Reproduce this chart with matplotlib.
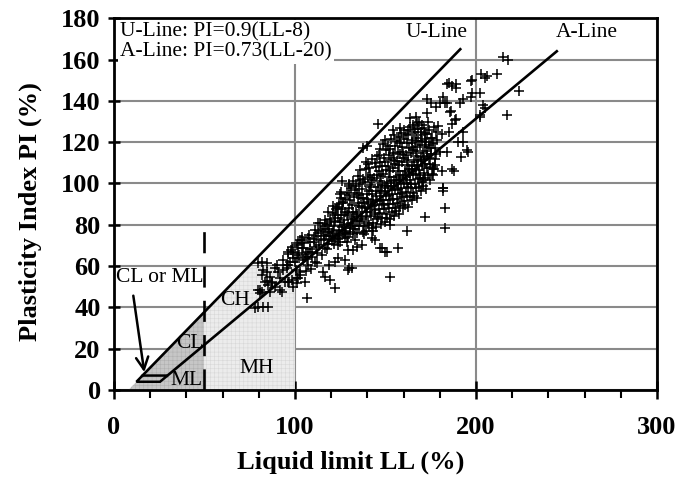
import numpy as np
import matplotlib.pyplot as plt
from matplotlib.patches import Polygon

plt.rcParams['font.family'] = ['Liberation Serif', 'DejaVu Serif']
plt.rcParams['hatch.linewidth'] = 0.4

# Casagrande line definitions
U_SLOPE, U_OFFSET = 0.9, 8
A_SLOPE, A_OFFSET = 0.73, 20

x_ticks = [0, 100, 200, 300]
y_ticks = [0, 20, 40, 60, 80, 100, 120, 140, 160, 180]

# soil samples (LL, PI) in the CH zone below LL = 100
ch_zone = [
    (81.8, 55.6), (84.5, 57.0), (86.0, 54.7), (83.4, 52.2), (80.7, 48.4),
    (81.8, 47.4), (85.0, 50.8), (87.3, 52.2), (89.0, 59.0), (90.6, 57.0),
    (93.4, 58.0), (95.6, 60.5), (97.2, 62.0), (99.0, 63.9), (98.0, 67.7),
    (78.0, 39.7), (79.6, 40.0), (82.3, 40.0), (85.0, 40.0), (86.0, 47.4),
    (91.7, 48.4), (89.0, 49.8), (94.5, 52.2), (97.0, 52.2), (99.0, 50.0),
    (79.6, 61.4), (84.5, 61.4), (90.0, 60.5), (93.4, 63.0), (96.0, 66.0),
    (82.3, 58.0), (84.5, 53.0), (79.6, 48.4), (80.7, 47.0), (87.3, 51.8),
    (91.7, 54.0), (92.8, 47.4), (96.0, 52.2), (81.8, 62.0),
]

# samples between LL = 100 and the dense cluster
mid_band = [
    (101.0, 70.0), (103.0, 72.6), (104.0, 74.0), (101.0, 54.0), (103.0, 55.6),
    (105.5, 52.2), (106.6, 44.5), (102.8, 57.0), (101.7, 54.2), (98.3, 53.2),
    (101.0, 51.8), (118.0, 86.0), (123.0, 88.5), (126.5, 91.0), (125.0, 95.0),
    (112.7, 80.8), (116.6, 82.2), (111.0, 77.4), (108.0, 75.0), (107.0, 73.5),
    (104.0, 72.6), (101.7, 71.0), (98.3, 69.0), (96.0, 66.8), (99.0, 66.8),
    (101.7, 66.3), (104.4, 68.7), (107.0, 66.8), (105.5, 64.3), (101.0, 63.9),
    (100.0, 61.9), (96.0, 60.5), (95.6, 59.0), (116.6, 68.7), (123.8, 70.1),
    (122.0, 73.5), (127.6, 76.0), (130.4, 76.5), (128.7, 71.6), (129.3, 67.7),
    (132.0, 67.7), (134.3, 69.2), (137.0, 70.1), (133.0, 72.6), (142.5, 73.5),
    (144.0, 72.6), (148.0, 68.7), (149.7, 66.8), (123.8, 63.9), (122.0, 61.9),
    (119.0, 60.5), (127.6, 62.9), (129.3, 58.0), (131.5, 59.0), (115.5, 57.0),
    (116.6, 54.7), (119.3, 53.2), (152.5, 54.7), (122.0, 49.3), (108.5, 68.2),
    (110.3, 71.5), (111.8, 74.6), (113.2, 70.1), (114.6, 76.8), (112.4, 66.3),
    (115.9, 72.9), (116.8, 79.4), (109.7, 64.6), (117.3, 75.2), (113.8, 80.7),
    (106.2, 65.9), (104.7, 62.8), (107.4, 60.3), (110.9, 62.2), (102.5, 65.2),
    (103.8, 68.9), (105.1, 71.1), (106.7, 63.4), (108.2, 71.9), (109.4, 67.0),
    (110.6, 73.2), (111.9, 69.0), (113.0, 75.9), (114.3, 72.7), (115.4, 78.1),
    (116.2, 74.4), (117.6, 80.6), (118.5, 76.7), (112.0, 61.5), (114.8, 65.6),
    (117.9, 68.3), (106.0, 57.5), (109.0, 58.5), (100.5, 58.2),
]

# dense cluster, LL 118-178
core = [
    (118.2, 70.5), (119.6, 74.8), (118.9, 78.1), (120.7, 72.2), (121.3, 76.9),
    (120.1, 81.4), (122.4, 84.6), (121.8, 79.3), (119.3, 83.0), (122.9, 87.5),
    (123.6, 73.1), (124.2, 77.6), (125.1, 71.8), (124.8, 81.2), (126.3, 75.4),
    (125.7, 84.9), (126.9, 79.7), (123.9, 88.2), (126.5, 90.6), (127.4, 86.3),
    (125.3, 93.1), (127.8, 73.6), (128.4, 76.2), (129.1, 80.5), (128.7, 84.7),
    (130.2, 78.3), (129.8, 88.1), (131.4, 82.6), (130.6, 91.9), (131.9, 86.4),
    (128.9, 95.2), (132.3, 75.6), (131.1, 97.8), (132.7, 93.5), (130.0, 99.6),
    (133.4, 77.8), (134.1, 81.9), (133.8, 86.2), (135.2, 79.4), (134.7, 90.5),
    (136.3, 84.1), (135.6, 94.3), (136.9, 88.7), (133.6, 98.6), (137.4, 76.3),
    (136.1, 101.8), (137.7, 92.9), (134.9, 103.6), (137.2, 97.4), (138.3, 79.5),
    (139.1, 83.8), (138.7, 88.0), (140.3, 81.1), (139.6, 92.4), (141.2, 86.2),
    (140.8, 96.5), (141.9, 90.3), (138.9, 100.7), (142.4, 78.6), (141.5, 104.1),
    (142.7, 94.8), (139.4, 106.9), (142.1, 99.3), (140.5, 109.2), (138.2, 75.4),
    (143.4, 80.9), (144.2, 85.3), (143.7, 89.6), (145.3, 82.7), (144.6, 94.0),
    (146.2, 87.8), (145.8, 98.2), (146.9, 92.1), (143.9, 102.6), (147.4, 80.2),
    (146.5, 106.0), (147.7, 96.5), (144.4, 109.7), (147.1, 101.1), (145.5, 113.1),
    (143.2, 77.1), (146.8, 110.5), (148.3, 83.4), (149.2, 87.6), (148.8, 91.9),
    (150.4, 85.2), (149.6, 96.3), (151.3, 90.1), (150.7, 100.4), (151.9, 94.6),
    (148.9, 104.8), (152.4, 82.6), (151.6, 108.3), (152.8, 98.9), (149.4, 112.1),
    (152.1, 103.2), (150.2, 116.4), (148.6, 119.0), (151.7, 113.8), (152.6, 79.8),
    (153.4, 86.1), (154.2, 90.3), (153.8, 94.7), (155.3, 88.0), (154.6, 98.9),
    (156.3, 92.7), (155.8, 103.0), (156.9, 97.3), (153.9, 107.5), (157.4, 85.4),
    (156.5, 110.9), (157.7, 101.6), (154.4, 114.6), (157.1, 106.1), (155.5, 118.3),
    (153.2, 121.4), (156.7, 115.2), (157.9, 119.8), (158.3, 89.2), (159.2, 93.6),
    (158.8, 97.8), (160.4, 91.3), (159.6, 102.1), (161.3, 95.8), (160.7, 106.2),
    (161.9, 100.4), (158.9, 110.5), (162.4, 88.6), (161.6, 113.9), (162.8, 104.9),
    (159.4, 117.7), (162.1, 109.0), (160.2, 121.6), (158.6, 124.5), (161.7, 119.4),
    (162.6, 123.8), (163.4, 93.4), (164.2, 97.7), (163.8, 101.9), (165.3, 95.5),
    (164.6, 106.2), (166.3, 99.9), (165.8, 110.3), (166.9, 104.4), (163.9, 114.6),
    (167.4, 92.8), (166.5, 117.8), (167.7, 108.7), (164.4, 121.2), (167.1, 113.1),
    (165.5, 124.9), (163.6, 127.3), (166.7, 121.9), (167.9, 126.4), (168.3, 98.3),
    (169.2, 102.5), (168.8, 106.6), (170.4, 100.6), (169.6, 110.8), (171.3, 104.9),
    (170.7, 114.7), (171.9, 109.2), (168.9, 118.8), (172.4, 97.4), (171.6, 121.7),
    (172.8, 113.5), (169.4, 125.1), (172.1, 117.6), (170.2, 128.2), (171.7, 124.6),
    (168.5, 129.8), (173.6, 104.2), (174.5, 109.6), (175.3, 114.2), (173.9, 118.5),
    (176.2, 106.8), (175.7, 121.9), (177.1, 111.7), (174.2, 125.8), (176.8, 127.4),
    (177.6, 117.3), (173.4, 129.9),
]

# second batch of samples inside the dense cluster
core_extra = [
    (119.0, 72.8), (120.4, 76.1), (121.7, 70.6), (122.2, 81.9), (120.8, 85.7),
    (123.1, 75.0), (121.0, 88.9), (124.5, 74.6), (125.9, 78.8), (124.0, 83.5),
    (127.1, 82.2), (126.0, 87.4), (127.9, 77.0), (124.6, 90.2), (127.5, 92.4),
    (125.2, 96.0), (129.5, 74.0), (130.8, 80.9), (129.3, 85.8), (132.0, 79.2),
    (131.3, 89.7), (130.1, 94.3), (132.6, 84.0), (133.0, 96.7), (129.6, 98.9),
    (132.2, 101.1), (134.5, 76.0), (135.9, 81.6), (134.4, 85.0), (137.0, 83.0),
    (135.5, 89.0), (136.6, 93.1), (134.2, 95.6), (137.9, 90.6), (135.4, 99.7),
    (137.5, 102.4), (136.0, 106.3), (139.5, 77.2), (140.9, 80.0), (139.8, 86.4),
    (142.0, 84.3), (140.4, 90.9), (142.5, 88.9), (139.9, 95.0), (141.6, 98.4),
    (143.0, 92.2), (140.2, 103.3), (142.8, 101.8), (141.1, 107.4), (139.1, 110.6),
    (142.5, 111.8), (144.8, 79.1), (145.9, 84.0), (144.0, 87.2), (147.1, 85.9),
    (145.1, 91.6), (147.9, 89.9), (144.7, 96.3), (146.8, 95.3), (148.0, 99.4),
    (145.1, 104.3), (147.5, 103.6), (144.9, 107.9), (146.3, 114.0), (148.0, 108.6),
    (147.0, 116.5), (149.5, 81.5), (150.9, 83.3), (149.0, 89.8), (152.0, 88.0),
    (150.3, 93.9), (152.7, 92.2), (149.9, 98.8), (151.5, 97.6), (153.0, 101.3),
    (150.1, 106.5), (152.5, 106.2), (149.9, 110.2), (151.2, 118.3), (153.0, 111.5),
    (150.0, 121.0), (152.3, 116.9), (154.8, 84.4), (155.9, 86.5), (154.0, 92.3),
    (157.1, 90.5), (155.3, 96.6), (157.8, 95.1), (154.9, 101.5), (156.5, 100.2),
    (158.0, 104.3), (155.1, 109.3), (157.5, 108.9), (154.9, 112.5), (156.3, 120.7),
    (158.0, 114.2), (155.0, 123.4), (157.3, 122.6), (159.7, 88.0), (160.9, 89.7),
    (159.0, 95.4), (162.1, 93.7), (160.3, 99.5), (162.7, 98.1), (159.9, 104.1),
    (161.5, 103.0), (163.0, 107.2), (160.1, 112.4), (162.5, 111.6), (159.9, 115.3),
    (161.3, 123.5), (163.0, 117.2), (160.0, 126.1), (162.3, 125.7), (164.8, 92.0),
    (165.9, 94.0), (164.0, 99.8), (167.1, 97.6), (165.3, 104.0), (167.8, 102.3),
    (164.9, 108.3), (166.5, 107.1), (168.0, 111.5), (165.1, 116.4), (167.5, 115.9),
    (164.9, 119.4), (166.3, 126.2), (168.0, 120.7), (165.0, 128.5), (167.3, 129.1),
    (169.7, 96.3), (170.9, 99.0), (169.0, 104.2), (172.1, 102.7), (170.3, 108.4),
    (172.7, 107.3), (169.9, 112.9), (171.5, 111.8), (173.0, 115.8), (170.1, 120.6),
    (172.5, 120.0), (169.9, 123.4), (171.3, 127.0), (173.0, 124.0), (174.8, 101.9),
    (175.9, 104.4), (174.0, 112.3), (177.1, 109.0), (175.3, 117.0), (177.8, 114.5),
    (174.9, 122.2), (176.5, 119.6), (178.0, 124.8),
]

# scattered samples at high liquid limit
upper_tail = [
    (183.0, 78.4), (183.0, 88.0), (182.0, 97.7), (172.0, 83.7), (162.0, 76.9),
    (157.0, 68.7), (151.0, 66.8), (147.0, 68.7), (130.0, 59.0), (187.0, 107.0),
    (181.0, 106.0), (176.0, 108.0), (192.0, 113.0), (195.0, 116.0), (193.0, 120.0),
    (193.0, 125.0), (202.0, 133.0), (204.0, 138.0), (203.0, 153.0), (205.0, 151.0),
    (198.0, 150.0), (198.0, 144.0), (193.0, 141.0), (202.0, 144.0), (197.0, 142.0),
    (189.0, 146.0), (187.0, 147.0), (184.0, 148.0), (182.0, 142.0), (183.0, 139.0),
    (173.0, 141.0), (175.0, 139.0), (178.0, 137.0), (186.0, 135.0), (189.0, 131.0),
    (187.0, 129.0), (146.0, 129.0), (140.0, 118.0), (137.6, 117.0), (126.0, 101.0),
    (184.0, 115.0), (180.0, 115.0), (215.0, 161.0), (217.7, 159.6), (206.0, 152.0),
    (211.6, 153.0), (224.0, 144.6), (217.0, 133.0), (205.0, 136.4), (202.0, 132.0),
    (197.0, 149.5), (185.0, 148.5), (189.0, 148.0), (182.0, 96.3), (177.0, 107.0),
    (188.0, 106.0), (195.6, 115.0), (190.0, 120.0), (185.6, 134.5), (188.4, 130.6),
    (191.0, 139.0), (180.0, 139.0), (184.0, 139.0), (170.7, 101.6), (176.0, 104.0),
    (181.8, 98.0), (163.5, 131.6), (173.0, 134.0), (167.0, 132.0), (158.0, 127.0),
    (154.0, 126.0), (179.0, 128.0), (181.0, 124.0), (178.5, 121.0), (185.0, 125.0),
]

fig = plt.figure(figsize=(6.78, 4.86), dpi=100)
ax = fig.add_axes([0.168, 0.1975, 0.801, 0.765])

ax.set_xlim(0, 300)
ax.set_ylim(0, 180)

# shaded zones
u_at_50 = U_SLOPE * (50 - U_OFFSET)
ll_at_60 = 60 / U_SLOPE + U_OFFSET
low_zone = Polygon([(U_OFFSET, 0), (50, u_at_50), (50, 0)], closed=True,
                   facecolor='#c6c6c6', edgecolor='#b0b0b0', hatch='++++',
                   lw=0, zorder=1)
high_zone = Polygon([(50, 0), (50, u_at_50), (ll_at_60, 60), (100, 60), (100, 0)],
                    closed=True, facecolor='#ececec', edgecolor='#d8d8d8',
                    hatch='++++', lw=0, zorder=1)
ax.add_patch(low_zone)
ax.add_patch(high_zone)

ax.grid(True, color='#8a8a8a', lw=1.5, zorder=0.5)
ax.set_axisbelow(True)

# U-line and A-line from PI = 7 upwards
u_pi = np.array([7, 165])
a_pi = np.array([7, 164])
ax.plot(u_pi / U_SLOPE + U_OFFSET, u_pi, color='black', lw=1.9, zorder=3)
ax.plot(a_pi / A_SLOPE + A_OFFSET, a_pi, color='black', lw=1.9, zorder=3)

# CL-ML band between PI 4 and 7
band = Polygon([(4 / U_SLOPE + U_OFFSET, 4), (4 / A_SLOPE + A_OFFSET, 4),
                (7 / A_SLOPE + A_OFFSET, 7), (7 / U_SLOPE + U_OFFSET, 7)],
               closed=True, fill=False, edgecolor='black', lw=1.8, zorder=3)
ax.add_patch(band)

ax.plot([50, 50], [0, 78], color='black', lw=1.9, dashes=(8, 5), zorder=3)

pts = np.array(ch_zone + mid_band + core + core_extra + upper_tail)
ax.plot(pts[:, 0], pts[:, 1], '+', color='black', ms=7, mew=1.1, zorder=4)

ax.annotate('', xy=(17, 7.3), xytext=(10.5, 47),
            arrowprops=dict(arrowstyle='->', lw=1.8, color='black',
                            mutation_scale=22), zorder=5)

txt = dict(fontsize=15.5, color='black', zorder=6)
ax.text(25.4, 54.7, 'CL or ML', ha='center', va='center', **txt)
ax.text(67, 43.5, 'CH', ha='center', va='center', **txt)
ax.text(42, 22.7, 'CL', ha='center', va='center', **txt)
ax.text(40, 4.8, 'ML', ha='center', va='center', **txt)
ax.text(79, 10.6, 'MH', ha='center', va='center', **txt)
ax.text(178.5, 173, 'U-Line', ha='center', va='center', **txt)
ax.text(261, 173, 'A-Line', ha='center', va='center', **txt)

box = dict(facecolor='white', edgecolor='none', pad=1.5)
ax.text(3.5, 173.5, 'U-Line: PI=0.9(LL-8)', ha='left', va='center',
        bbox=box, **txt)
ax.text(3.5, 163.5, 'A-Line: PI=0.73(LL-20)', ha='left', va='center',
        bbox=box, **txt)

ax.set_xticks(x_ticks)
ax.set_xticks(np.arange(0, 301, 20), minor=True)
ax.set_yticks(y_ticks)
ax.set_xticklabels([str(v) for v in x_ticks], fontsize=19, fontweight='bold')
ax.set_yticklabels([str(v) for v in y_ticks], fontsize=19, fontweight='bold')
ax.tick_params(axis='x', which='major', direction='inout', length=13, width=1.8, pad=12)
ax.tick_params(axis='x', which='minor', direction='out', length=6, width=1.5)
ax.tick_params(axis='y', which='major', direction='inout', length=9, width=1.8, pad=5)

for s in ax.spines.values():
    s.set_linewidth(2.0)
    s.set_zorder(7)

ax.set_xlabel('Liquid limit LL (%)', fontsize=19, fontweight='bold')
ax.set_ylabel('Plasticity Index PI (%)', fontsize=19, fontweight='bold')
ax.xaxis.set_label_coords(0.436, -0.163)
ax.yaxis.set_label_coords(-0.133, 0.48)

fig.savefig('out.png', dpi=100)
